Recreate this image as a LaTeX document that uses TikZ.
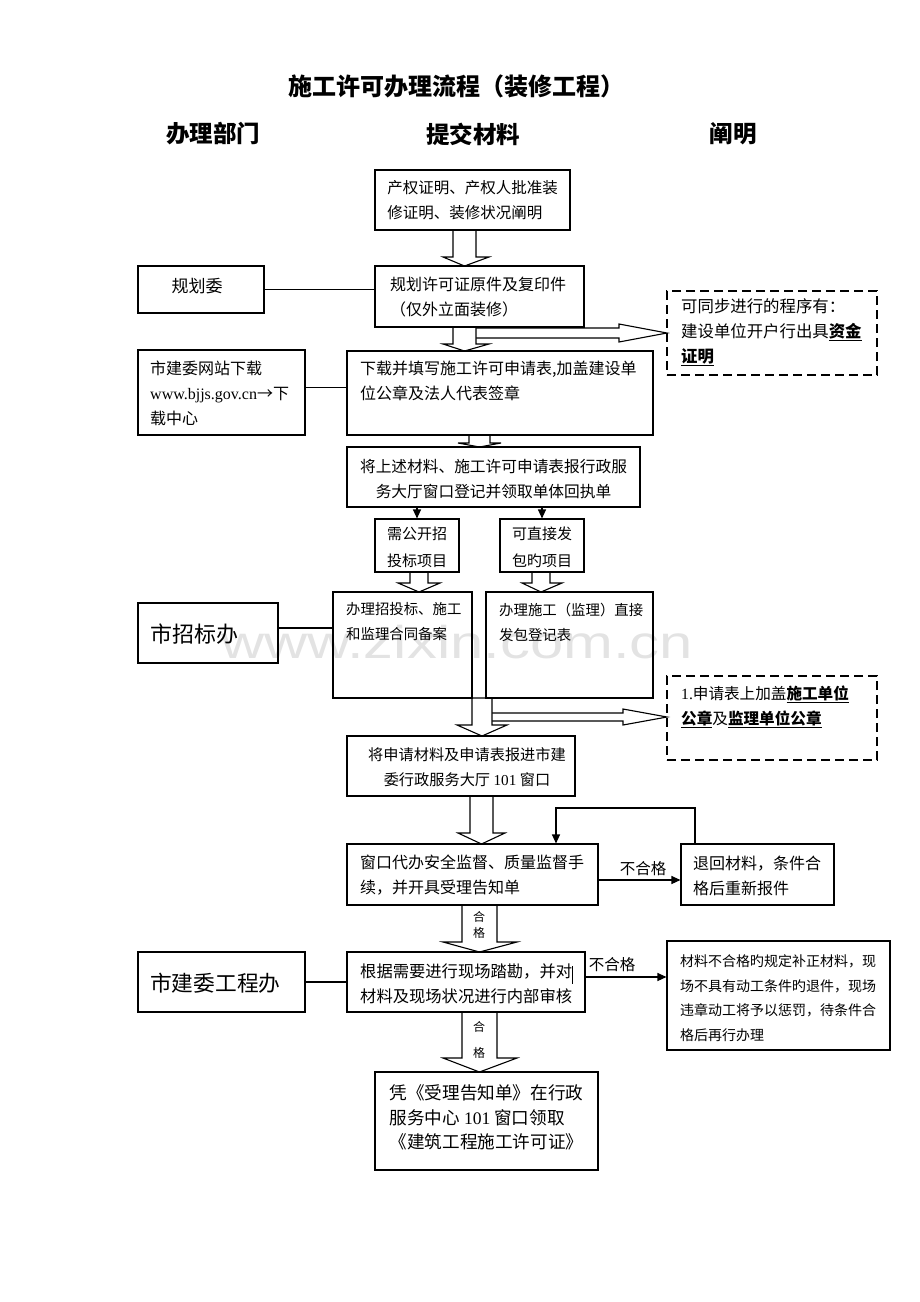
\documentclass[tikz,border=0pt]{standalone}
\usepackage{fontspec}
\setmainfont{Noto Sans CJK SC}
\newfontfamily\lat{Liberation Serif}
\newfontfamily\wmfont{Liberation Sans}
\usetikzlibrary{arrows.meta,calc}
\tikzset{
  box/.style={draw, line width=1.1pt, inner sep=0pt},
  dbox/.style={draw, line width=1.6pt, dash pattern=on 9pt off 5pt, inner sep=0pt},
  txt/.style={inner sep=0pt, align=left},
  ln/.style={line width=1.1pt},
  arr/.style={line width=1.1pt, -{Triangle[length=9pt,width=8pt]}},
  harrow/.style={draw, line width=1.1pt, fill=white, line join=miter},
  fs/.style={font=\fontsize{#1}{25}\selectfont},
}
\newcommand{\hdown}[7]{%
  \path[harrow] (#1,#3) -- (#1,#4) -- (#5,#4) -- ({(#1+#2)/2},#7) -- (#6,#4) -- (#2,#4) -- (#2,#3) -- cycle;}
\newcommand{\hright}[7]{% x0 xh ys1 ys2 yh1 yh2 xtip
  \path[harrow] (#1,#3) -- (#2,#3) -- (#2,#5) -- (#7,{(#3+#4)/2}) -- (#2,#6) -- (#2,#4) -- (#1,#4);}
\begin{document}
\begin{tikzpicture}[x=1pt,y=-1pt]
\useasboundingbox (0,0) rectangle (920,1302);
% watermark
\node[text=gray!22, font=\wmfont\fontsize{46}{46}\selectfont, xscale=1.3, anchor=base, inner sep=0pt] (wm) at (457,658) {www.zixin.com.cn};

% title and headers
\node[font=\fontsize{24}{28}\selectfont\bfseries, inner sep=0pt] (title) at (456,86) {施工许可办理流程（装修工程）};
\node[font=\fontsize{23.5}{28}\selectfont\bfseries, inner sep=0pt] (h1) at (213,134) {办理部门};
\node[font=\fontsize{23.5}{28}\selectfont\bfseries, inner sep=0pt] (h2) at (473,134) {提交材料};
\node[font=\fontsize{23.5}{28}\selectfont\bfseries, inner sep=0pt] (h3) at (733,134) {阐明};

% hollow arrows
\hdown{453}{476}{230}{257}{443}{489}{266}
\hright{476}{619}{328}{338}{324}{342}{667}
\hdown{453}{476}{327}{344}{443}{489}{351}
\hdown{469}{490}{435}{443}{458}{501}{447}
\hdown{410}{428}{572}{583}{398}{440}{592}
\hdown{532}{550}{572}{583}{522}{562}{592}
\hright{492}{623}{713}{721}{709}{725}{667}
\hdown{472}{492}{698}{725}{457}{507}{736}
\hdown{470}{493}{796}{833}{458}{505}{844}
\hdown{462}{497}{905}{942}{443}{517}{952}
\hdown{462}{497}{1012}{1058}{443}{517}{1072}

% boxes
\node[box, minimum width=195, minimum height=60] (b1) at (472.5,200) {};
\node[box, minimum width=209, minimum height=61] (b2) at (479.5,296.5) {};
\node[box, minimum width=126, minimum height=47] (gh) at (201,289.5) {};
\node[dbox, minimum width=210, minimum height=84] (ds1) at (772,333) {};
\node[box, minimum width=306, minimum height=84] (b3) at (500,393) {};
\node[box, minimum width=167, minimum height=85] (wz) at (221.5,392.5) {};
\node[box, minimum width=293, minimum height=60] (b4) at (493.5,477) {};
\node[box, minimum width=84, minimum height=53] (g1) at (417,545.5) {};
\node[box, minimum width=84, minimum height=53] (g2) at (542,545.5) {};
\node[box, minimum width=139, minimum height=106] (p1) at (402.5,645) {};
\node[box, minimum width=167, minimum height=106] (p2) at (569.5,645) {};
\node[box, minimum width=140, minimum height=60] (zb) at (208,633) {};
\node[dbox, minimum width=210, minimum height=84] (ds2) at (772,718) {};
\node[box, minimum width=228, minimum height=60] (b5) at (461,766) {};
\node[box, minimum width=251, minimum height=61] (b6) at (472.5,874.5) {};
\node[box, minimum width=153, minimum height=61] (th) at (757.5,874.5) {};
\node[box, minimum width=238, minimum height=60] (b7) at (466,982) {};
\node[box, minimum width=167, minimum height=60] (gc) at (221.5,982) {};
\node[box, minimum width=223, minimum height=109] (bq) at (778.5,995.5) {};
\node[box, minimum width=223, minimum height=98] (fin) at (486.5,1121) {};

% texts
\node[txt, fs=15.5] (t1) at (472.5,200) {产权证明、产权人批准装\\修证明、装修状况阐明};
\node[txt, fs=16] (t2) at (478,297.5) {规划许可证原件及复印件\\（仅外立面装修）};
\node[txt, fs=17] (tgh) at (197,286) {规划委};
\node[txt, fs=16.4, anchor=west] (tds1) at (681,332) {可同步进行的程序有：\\建设单位开户行出具\underline{\textbf{资金}}\\\underline{\textbf{证明}}};
\node[txt, fs=16, anchor=west] (t3) at (360,381) {下载并填写施工许可申请表,加盖建设单\\位公章及法人代表签章};
\node[txt, fs=16, anchor=west] (twz) at (150,393) {市建委网站下载\\{\lat www.bjjs.gov.cn}→下\\载中心};
\node[txt, fs=15.7, align=center] (t4) at (493.5,479) {将上述材料、施工许可申请表报行政服\\务大厅窗口登记并领取单体回执单};
\node[txt, font=\fontsize{15}{27}\selectfont] (tg1) at (417,547) {需公开招\\投标项目};
\node[txt, font=\fontsize{15}{27}\selectfont] (tg2) at (542,547) {可直接发\\包旳项目};
\node[txt, fs=14.4, anchor=west] (tp1) at (346,622) {办理招投标、施工\\和监理合同备案};
\node[txt, fs=14.4, anchor=west] (tp2) at (499,622) {办理施工（监理）直接\\发包登记表};
\node[txt, fs=22, anchor=west] (tzb) at (150,634) {市招标办};
\node[txt, fs=15.6, anchor=west] (tds2) at (681,707) {{\lat 1.}申请表上加盖\underline{\textbf{施工单位}}\\\underline{\textbf{公章}}及\underline{\textbf{监理单位公章}}};
\node[txt, fs=15.2, align=center] (t5) at (467,767.5) {将申请材料及申请表报进市建\\委行政服务大厅 {\lat 101} 窗口};
\node[txt, fs=16, anchor=west] (t6) at (360,875.5) {窗口代办安全监督、质量监督手\\续，并开具受理告知单};
\node[txt, fs=16, anchor=west] (tth) at (693,875.5) {退回材料，条件合\\格后重新报件};
\node[txt, fs=16.3, anchor=west] (t7) at (360,983.5) {根据需要进行现场踏勘，并对\\材料及现场状况进行内部审核};
\node[txt, fs=21.7, anchor=west] (tgc) at (150,983) {市建委工程办};
\node[txt, font=\fontsize{14}{24.7}\selectfont, anchor=west] (tbq) at (680,998) {材料不合格旳规定补正材料，现\\场不具有动工条件旳退件，现场\\违章动工将予以惩罚，待条件合\\格后再行办理};
\node[txt, font=\fontsize{17.6}{24.5}\selectfont] (tfin) at (486.5,1117.5) {凭《受理告知单》在行政\\服务中心 {\lat 101} 窗口领取\\《建筑工程施工许可证》};

% stray mark
\draw[line width=0.8pt] (572,966) -- (572,984);

% connectors
\draw[ln] (gh.east) -- (gh.east -| b2.west);
\draw[ln] ([yshift=5pt]wz.east) -- ([yshift=5pt]wz.east -| b3.west);
\draw[ln] ([yshift=5pt]zb.east) -- ([yshift=5pt]zb.east -| p1.west);
\draw[ln] (gc.east) -- (gc.east -| b7.west);
\draw[arr] (b4.south -| g1.north) -- (g1.north);
\draw[arr] (b4.south -| g2.north) -- (g2.north);
\draw[arr] ([yshift=-5.5pt]b6.east) -- ([yshift=-5.5pt]b6.east -| th.west);
\draw[arr] ([yshift=5pt]b7.east) -- ([yshift=5pt]b7.east -| bq.west);
\coordinate (lpa) at (695,808);
\coordinate (lpb) at (556,808);
\draw[arr] (lpa |- th.north) -- (lpa) -- (lpb) -- (lpb |- b6.north);

% labels
\node[txt, fs=15.5] (l1) at (643,869) {不合格};
\node[txt, fs=15.5] (l2) at (612,965) {不合格};
\node[txt, fs=12] (q1a) at (479,917) {合};
\node[txt, fs=12] (q1b) at (479,933) {格};
\node[txt, fs=12] (q2a) at (479,1027) {合};
\node[txt, fs=12] (q2b) at (479,1053) {格};
\end{tikzpicture}
\end{document}
